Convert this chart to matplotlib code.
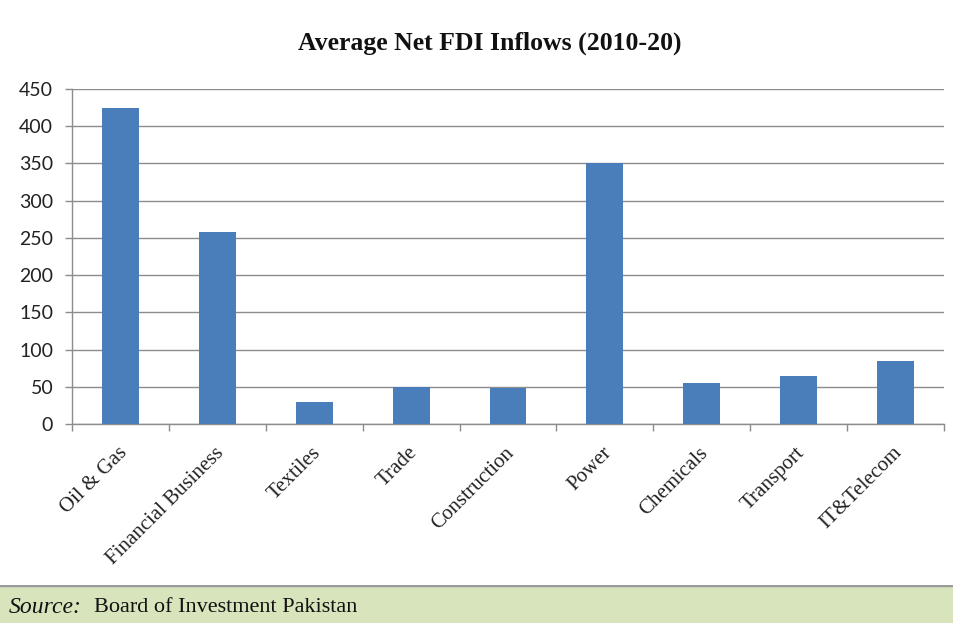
import matplotlib
matplotlib.use("Agg")
import matplotlib.pyplot as plt
import matplotlib.transforms as mtransforms
from matplotlib.ticker import FixedLocator
import numpy as np

categories = ["Oil & Gas", "Financial Business", "Textiles", "Trade", "Construction",
              "Power", "Chemicals", "Transport", "IT&Telecom"]
values = [425, 258, 30, 50, 49, 350, 55, 65, 84]
y_ticks = [0, 50, 100, 150, 200, 250, 300, 350, 400, 450]

title = "Average Net FDI Inflows (2010-20)"
source_label = "Source:"
source_text = "Board of Investment Pakistan"

fig = plt.figure(figsize=(9.54, 6.23), dpi=100)
fig.patch.set_facecolor("white")

ax = fig.add_axes([72 / 954, 199 / 623, 872 / 954, 335 / 623])
x = np.arange(len(categories))
ax.bar(x, values, width=0.38, color="#4a7ebb", zorder=3)

ax.set_xlim(-0.5, len(categories) - 0.5)
ax.set_ylim(0, 450)
ax.set_yticks(y_ticks)
ax.set_yticklabels([str(t) for t in y_ticks], fontsize=14, family="Lato", color="#222222")
ax.yaxis.grid(True, color="#8c8c8c", linewidth=1.0, zorder=0)
ax.set_axisbelow(True)

for side in ("top", "right"):
    ax.spines[side].set_visible(False)
for side in ("left", "bottom"):
    ax.spines[side].set_color("#8c8c8c")
    ax.spines[side].set_linewidth(1.0)

ax.tick_params(axis="y", length=5, width=1.0, color="#8c8c8c", pad=8.5)

# category ticks hidden, boundary marks drawn as minor ticks
ax.set_xticks(x)
ax.xaxis.set_minor_locator(FixedLocator(np.arange(-0.5, len(categories), 1.0)))
ax.tick_params(axis="x", which="major", length=0, pad=14)
ax.tick_params(axis="x", which="minor", length=5, width=1.0, color="#8c8c8c")
ax.set_xticklabels(categories, rotation=45, ha="right", va="top",
                   rotation_mode="anchor", fontsize=15,
                   family="Liberation Serif", color="#222222")
offset = mtransforms.ScaledTranslation(-3 / 100, 0, fig.dpi_scale_trans)
for lbl in ax.get_xticklabels():
    lbl.set_transform(lbl.get_transform() + offset)

fig.text(490 / 954, 1 - 43 / 623, title, ha="center", va="center",
         fontsize=18.5, fontweight="bold", family="Liberation Serif", color="#111111")

# source footer band
band = fig.add_axes([0, 0, 1, 38 / 623])
band.set_xlim(0, 1)
band.set_ylim(0, 1)
band.axis("off")
band.add_patch(plt.Rectangle((0, 0), 1, 1, color="#d8e4bc", transform=band.transAxes))
band.axhline(1.0, color="#9a9a9a", linewidth=2.5)
t1 = band.text(9 / 954, 0.42, source_label, ha="left", va="center", fontsize=17,
               style="italic", family="Liberation Serif", color="#111111")
fig.canvas.draw()
bb = t1.get_window_extent()
band.text((bb.x1 + 12) / 954, 0.42, source_text, ha="left", va="center", fontsize=16,
          family="Liberation Serif", color="#111111")

fig.savefig("out.png", dpi=100, facecolor="white")
